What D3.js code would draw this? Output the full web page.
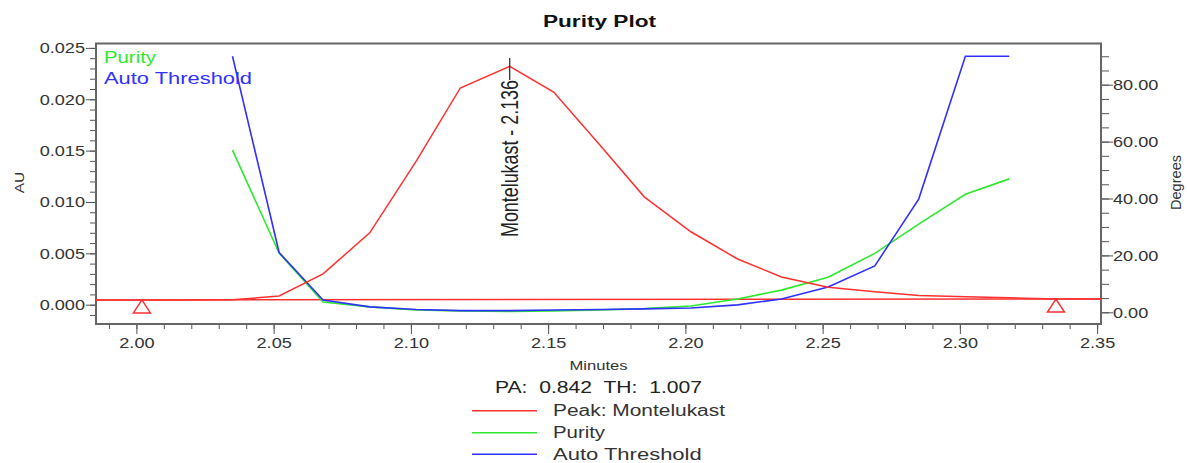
<!DOCTYPE html>
<html>
<head>
<meta charset="utf-8">
<script src="https://cdn.jsdelivr.net/npm/d3@7"></script>
<style>
body { margin: 0; background: #fff; }
text { font-family: "Liberation Sans", Arial, sans-serif; }
</style>
</head>
<body>
<div id="purityPlot"></div>
<script>
// purity / threshold samples (minutes, degrees)
const scanTimes = [2.035, 2.052, 2.068, 2.085, 2.102, 2.118, 2.136, 2.152, 2.169, 2.185, 2.202, 2.219, 2.235, 2.252, 2.269, 2.285, 2.302, 2.318];
const purityDeg = [57.0, 20.8, 3.6, 1.9, 0.8, 0.5, 0.3, 0.5, 0.8, 1.3, 2.2, 4.7, 7.8, 12.3, 20.7, 31.0, 41.5, 46.9];
const thresholdDeg = [90.0, 21.0, 4.3, 1.9, 1.0, 0.6, 0.6, 0.8, 1.0, 1.2, 1.5, 2.6, 4.7, 8.9, 16.3, 39.8, 90.0, 90.0];

// chromatogram of the peak (minutes, AU)
const peakTimes = [1.985, 2.002, 2.018, 2.035, 2.052, 2.068, 2.085, 2.102, 2.118, 2.136, 2.152, 2.169, 2.185, 2.202, 2.219, 2.235, 2.252, 2.269, 2.285, 2.302, 2.318, 2.335, 2.352];
const peakAU = [0.00046, 0.00046, 0.00046, 0.00047, 0.00085, 0.0030, 0.0070, 0.0140, 0.0211, 0.0232, 0.0207, 0.0155, 0.0105, 0.0071, 0.00445, 0.0027, 0.0017, 0.00125, 0.0009, 0.00078, 0.00068, 0.00055, 0.00055];

// baseline drop line and integration marks
const baseTimes = [1.985, 2.352];
const baseAU = [0.00046, 0.00055];
const markTimes = [2.002, 2.335];
const apexTime = 2.136;
const peakName = "Montelukast";

// tick labels
const xTicks = [2.00, 2.05, 2.10, 2.15, 2.20, 2.25, 2.30, 2.35];
const auTicks = [0.000, 0.005, 0.010, 0.015, 0.020, 0.025];
const degTicks = [0, 20, 40, 60, 80];

const legendNames = ["Peak: Montelukast", "Purity", "Auto Threshold"];
const colors = { peak: "#ff3030", purity: "#2ee82e", threshold: "#3030ff" };

const width = 1187, height = 463;
const plot = { left: 96, right: 1101, top: 43.5, bottom: 324 };

const svg = d3.select("#purityPlot").append("svg")
    .attr("width", width)
    .attr("height", height);

const x = d3.scaleLinear().domain([1.98528, 2.35141]).range([plot.left, plot.right]);
const yAU = d3.scaleLinear().domain([-0.00188, 0.02543]).range([plot.bottom, plot.top]);
const yDeg = d3.scaleLinear().domain([-4.11, 94.48]).range([plot.bottom, plot.top]);

// widen tick labels like the original rendering
const k = 1.21;
function stretchLabels(g) {
    g.selectAll("text").each(function () {
        const t = d3.select(this);
        t.attr("x", (+t.attr("x") || 0) / k).attr("transform", `scale(${k},1)`);
    });
}
function styleAxis(g) {
    g.selectAll(".tick line").attr("stroke", "#555");
    g.selectAll("text").attr("fill", "#333").style("font-size", "15px")
        .style("font-family", '"Liberation Sans", Arial, sans-serif');
    g.select(".domain").remove();
}

// minor ticks
svg.append("g")
    .attr("transform", `translate(0,${plot.bottom})`)
    .call(d3.axisBottom(x).tickValues(d3.range(1.99, 2.355, 0.01)).tickSize(5).tickFormat(""))
    .call(styleAxis);
svg.append("g")
    .attr("transform", `translate(${plot.left},0)`)
    .call(d3.axisLeft(yAU).tickValues(d3.range(-0.001, 0.0255, 0.001)).tickSize(6).tickFormat(""))
    .call(styleAxis);
svg.append("g")
    .attr("transform", `translate(${plot.right},0)`)
    .call(d3.axisRight(yDeg).tickValues(d3.range(0, 91, 5)).tickSize(8).tickFormat(""))
    .call(styleAxis);

// major ticks
svg.append("g")
    .attr("transform", `translate(0,${plot.bottom})`)
    .call(d3.axisBottom(x).tickValues(xTicks).tickSize(10).tickPadding(3).tickFormat(d3.format(".2f")))
    .call(styleAxis).call(stretchLabels);
svg.append("g")
    .attr("transform", `translate(${plot.left},0)`)
    .call(d3.axisLeft(yAU).tickValues(auTicks).tickSize(10).tickPadding(1).tickFormat(d3.format(".3f")))
    .call(styleAxis).call(stretchLabels);
svg.append("g")
    .attr("transform", `translate(${plot.right},0)`)
    .call(d3.axisRight(yDeg).tickValues(degTicks).tickSize(12).tickPadding(0).tickFormat(d3.format(".2f")))
    .call(styleAxis).call(stretchLabels);

// frame
svg.append("rect")
    .attr("x", plot.left).attr("y", plot.top)
    .attr("width", plot.right - plot.left).attr("height", plot.bottom - plot.top)
    .attr("fill", "none").attr("stroke", "#666").attr("stroke-width", 2);

// clip for curves
svg.append("defs").append("clipPath").attr("id", "plotClip")
    .append("rect").attr("x", plot.left).attr("y", plot.top)
    .attr("width", plot.right - plot.left).attr("height", plot.bottom - plot.top);
const area = svg.append("g").attr("clip-path", "url(#plotClip)");

const lineAU = d3.line().x(d => x(d[0])).y(d => yAU(d[1]));
const lineDeg = d3.line().x(d => x(d[0])).y(d => yDeg(d[1]));

area.append("path")
    .attr("d", lineAU(d3.zip(baseTimes, baseAU)))
    .attr("fill", "none").attr("stroke", colors.peak).attr("stroke-width", 1.5);
area.append("path")
    .attr("d", lineDeg(d3.zip(scanTimes, purityDeg)))
    .attr("fill", "none").attr("stroke", colors.purity).attr("stroke-width", 1.6);
area.append("path")
    .attr("d", lineDeg(d3.zip(scanTimes, thresholdDeg)))
    .attr("fill", "none").attr("stroke", colors.threshold).attr("stroke-width", 1.6);
area.append("path")
    .attr("d", lineAU(d3.zip(peakTimes, peakAU)))
    .attr("fill", "none").attr("stroke", colors.peak).attr("stroke-width", 1.5);

// integration start / end triangles
const baseAt = d3.scaleLinear().domain(baseTimes).range(baseAU);
svg.selectAll(".mark")
    .data(markTimes)
    .enter().append("path")
    .attr("class", "mark")
    .attr("d", d => {
        const cx = x(d), cy = yAU(baseAt(d));
        return `M${cx},${cy}L${cx - 8.5},${cy + 13}L${cx + 8.5},${cy + 13}Z`;
    })
    .attr("fill", "none").attr("stroke", colors.peak).attr("stroke-width", 1.5);

// apex label
svg.append("line")
    .attr("x1", x(apexTime)).attr("x2", x(apexTime))
    .attr("y1", 58).attr("y2", 80)
    .attr("stroke", "#222").attr("stroke-width", 1.2);
svg.append("text")
    .attr("transform", `translate(${x(apexTime) + 8.5},80) rotate(-90) scale(1,1.3)`)
    .attr("text-anchor", "end")
    .attr("textLength", 157).attr("lengthAdjust", "spacingAndGlyphs")
    .style("font-size", "18px").attr("fill", "#222")
    .text(`${peakName} - ${apexTime.toFixed(3)}`);

// inner legend
svg.append("text").attr("x", 104).attr("y", 63.3)
    .attr("textLength", 52).attr("lengthAdjust", "spacingAndGlyphs")
    .style("font-size", "17px").attr("fill", colors.purity).text("Purity");
svg.append("text").attr("x", 104).attr("y", 84.3)
    .attr("textLength", 148).attr("lengthAdjust", "spacingAndGlyphs")
    .style("font-size", "17px").attr("fill", colors.threshold).text("Auto Threshold");

// titles
svg.append("text").attr("x", 599.5).attr("y", 26.7)
    .attr("text-anchor", "middle")
    .attr("textLength", 113).attr("lengthAdjust", "spacingAndGlyphs")
    .style("font-size", "16px").style("font-weight", "bold").attr("fill", "#111")
    .text("Purity Plot");
svg.append("text").attr("x", 598.5).attr("y", 370)
    .attr("text-anchor", "middle")
    .attr("textLength", 58).attr("lengthAdjust", "spacingAndGlyphs")
    .style("font-size", "13px").attr("fill", "#333")
    .text("Minutes");
svg.append("text")
    .attr("transform", "translate(23.5,182.5) rotate(-90)")
    .attr("text-anchor", "middle")
    .attr("textLength", 21.6).attr("lengthAdjust", "spacingAndGlyphs")
    .style("font-size", "13px").attr("fill", "#333")
    .text("AU");
svg.append("text")
    .attr("transform", "translate(1181,182.5) rotate(-90)")
    .attr("text-anchor", "middle")
    .attr("textLength", 55).attr("lengthAdjust", "spacingAndGlyphs")
    .style("font-size", "14.5px").attr("fill", "#333")
    .text("Degrees");

svg.append("text").attr("x", 495).attr("y", 393.3)
    .attr("textLength", 207).attr("lengthAdjust", "spacingAndGlyphs")
    .style("font-size", "16px").style("white-space", "pre").attr("fill", "#222")
    .text("PA:  0.842  TH:  1.007");

// bottom legend
const legendColors = [colors.peak, colors.purity, colors.threshold];
const legendLens = [172, 52, 148.7];
const legendY = [410.8, 432.8, 454.3];
const legend = svg.selectAll(".legend")
    .data(legendNames)
    .enter().append("g")
    .attr("class", "legend")
    .attr("transform", (d, i) => `translate(0,${legendY[i]})`);
legend.append("line")
    .attr("x1", 472).attr("x2", 537)
    .attr("stroke", (d, i) => legendColors[i]).attr("stroke-width", 1.5);
legend.append("text")
    .attr("x", 553).attr("y", 5.3)
    .attr("textLength", (d, i) => legendLens[i]).attr("lengthAdjust", "spacingAndGlyphs")
    .style("font-size", "16px").attr("fill", "#333")
    .text(d => d);
</script>
</body>
</html>
